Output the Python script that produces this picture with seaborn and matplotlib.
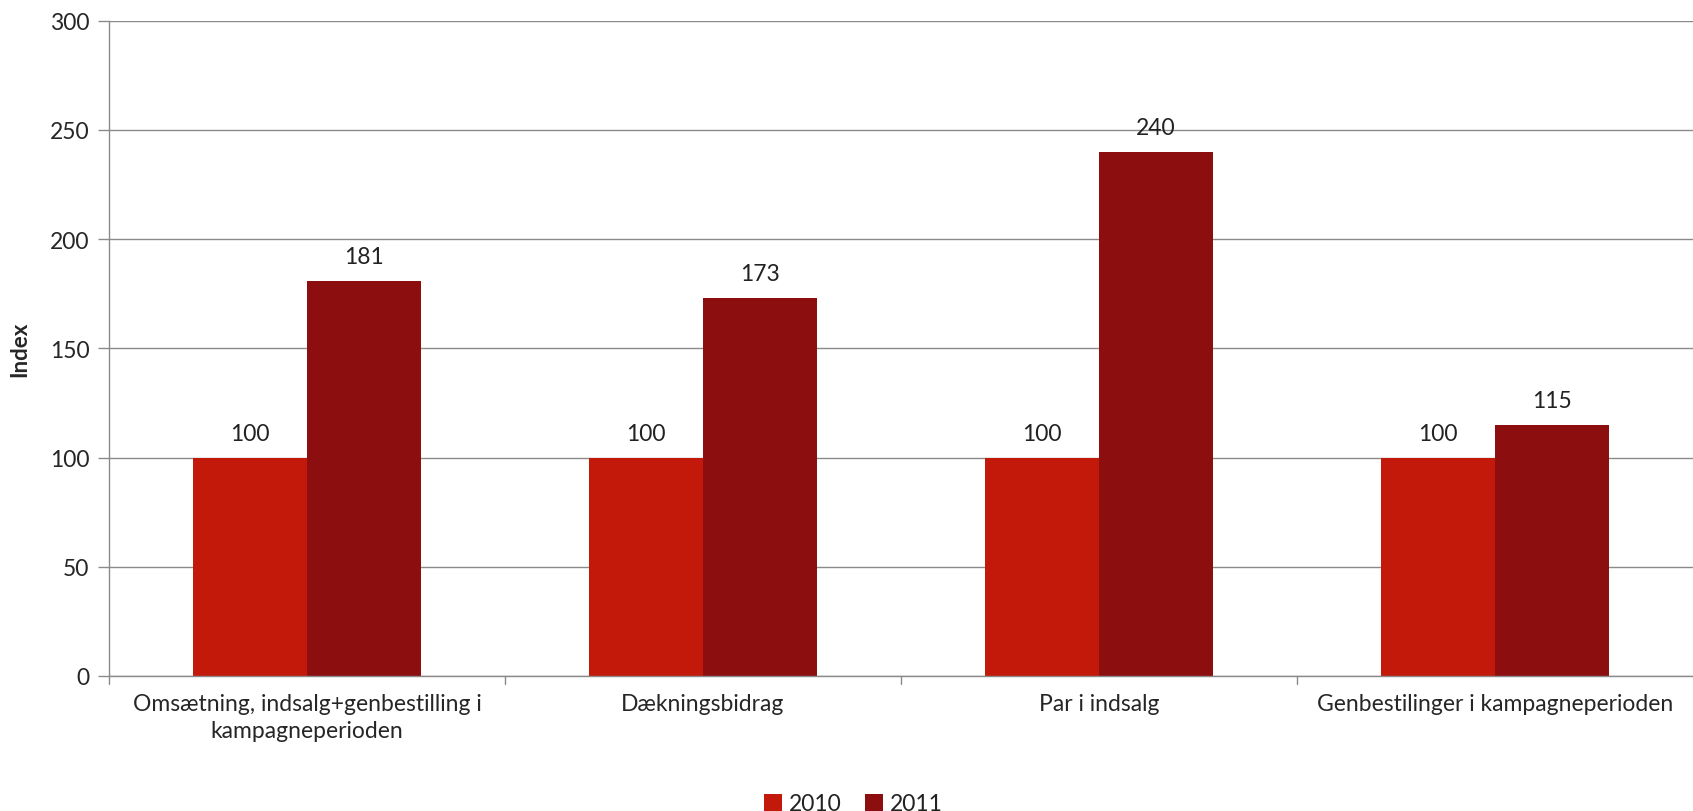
import pandas as pd
import matplotlib.pyplot as plt
import seaborn as sns

# data
categories = ['Omsætning, indsalg+genbestilling i\nkampagneperioden', 'Dækningsbidrag',
              'Par i indsalg', 'Genbestilinger i kampagneperioden']
years = ['2010', '2011']
values_2010 = [100, 100, 100, 100]
values_2011 = [181, 173, 240, 115]

df = pd.DataFrame({
    'kategori': categories * 2,
    'aar': [years[0]] * 4 + [years[1]] * 4,
    'index': values_2010 + values_2011,
})

sns.set_style("white")
plt.rcParams['font.family'] = ['Lato', 'DejaVu Sans']
plt.rcParams['text.color'] = '#222222'

fig = plt.figure(figsize=(16.93, 8.12), dpi=100)
ax = fig.add_axes([0.0644, 0.1663, 0.9356, 0.807])

sns.barplot(data=df, x='kategori', y='index', hue='aar', order=categories,
            palette=['#C3190B', '#8D0E0E'], width=0.575, saturation=1,
            edgecolor='none', ax=ax, legend=True)

for c in ax.containers:
    ax.bar_label(c, fmt='%d', padding=10, fontsize=16.5)

ax.set_ylim(0, 300)
ax.set_yticks(range(0, 301, 50))
ax.set_xlim(-0.5, 3.5)
ax.yaxis.grid(True, color='#8a8a8a', linewidth=1)
ax.set_axisbelow(True)
for s in ['top', 'right']:
    ax.spines[s].set_visible(False)
for s in ['left', 'bottom']:
    ax.spines[s].set_color('#8a8a8a')
    ax.spines[s].set_linewidth(1)

ax.tick_params(axis='y', labelsize=16.5, length=8, width=1, color='#8a8a8a', left=True, pad=6)
ax.set_xticks([0, 1, 2, 3])
ax.set_xticklabels(categories, fontsize=16.5, linespacing=1.35)
ax.tick_params(axis='x', length=0, pad=12)
# tick marks between categories
for xb in [-0.5, 0.5, 1.5, 2.5]:
    ax.plot([xb, xb], [0, -0.012], transform=ax.get_xaxis_transform(), color='#8a8a8a',
            lw=1, clip_on=False)

ax.set_xlabel('')
ax.set_ylabel('Index', fontsize=16, fontweight='bold', labelpad=14)

ax.legend(loc='lower center', bbox_to_anchor=(0.47, -0.225), ncol=2, frameon=False,
          fontsize=16.5, handlelength=0.8, handleheight=0.8, handletextpad=0.3,
          columnspacing=1.0, title=None, borderaxespad=0)

plt.savefig('out.png', dpi=100)
